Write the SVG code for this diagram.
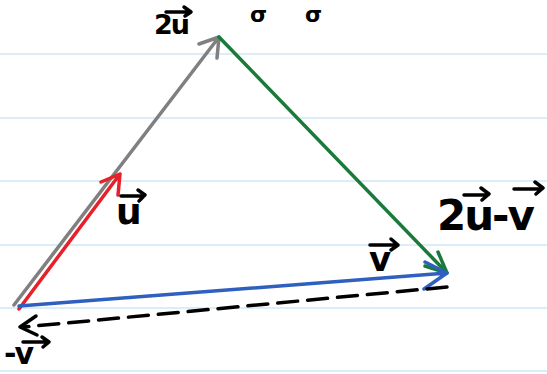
<svg xmlns="http://www.w3.org/2000/svg" width="547" height="374" viewBox="0 0 547 374">
<defs>
<style>
.rule{stroke:#cfe8f5;stroke-width:1.5}
.vec{fill:none;stroke-width:3.5;stroke-linecap:round;stroke-linejoin:round}
.lbl{font-family:"DejaVu Sans",sans-serif;font-weight:bold;fill:#000}
.ov{fill:none;stroke:#000;stroke-width:3.5;stroke-linecap:round;stroke-linejoin:round}
</style>
</defs>
<rect width="547" height="374" fill="#fff"/>
<g id="rules">
<line class="rule" x1="0" y1="54" x2="547" y2="54"/>
<line class="rule" x1="0" y1="118" x2="547" y2="118"/>
<line class="rule" x1="0" y1="181" x2="547" y2="181"/>
<line class="rule" x1="0" y1="245" x2="547" y2="245"/>
<line class="rule" x1="0" y1="308" x2="547" y2="308"/>
<line class="rule" x1="0" y1="371" x2="547" y2="371"/>
</g>
<g id="connectors">
<g id="vec-2u"><path class="vec" stroke="#808080" d="M14 305 L219 37 M199 44 L219 37 L217 58"/></g>
<g id="vec-u"><path class="vec" stroke="#e8202a" d="M19 309 L120 174 M101 182 L120 174 L118 195"/></g>
<g id="vec-2u-v"><path class="vec" stroke="#1a7a3a" d="M219 37 L447 273 M438 252 L447 273 L425 266"/></g>
<g id="vec-v"><path class="vec" stroke="#2f5fbf" d="M19 306 L447 273 M425 262 L447 273 L424 289"/></g>
<g id="vec-neg-v"><path class="vec" stroke="#000" stroke-dasharray="20 10" d="M447 287 L24 327"/><path class="vec" stroke="#000" d="M36 316 L20 327 L37 335"/></g>
</g>
<g id="label-2u"><text class="lbl" x="154" y="34" font-size="27" letter-spacing="-2">2u</text><path class="ov" d="M166 12 H190 M184 7 L191 12 L185 16"/></g>
<g id="label-u"><text class="lbl" x="116" y="224" font-size="36">u</text><path class="ov" d="M121 196 H144 M138 190 L145 195 L139 201"/></g>
<g id="label-v"><text class="lbl" x="369" y="271" font-size="34">v</text><path class="ov" d="M370 245 H398 M391 239 L398 245 L391 250"/></g>
<g id="label-2u-v"><text class="lbl" x="437" y="230" font-size="42" letter-spacing="-2">2u-v</text><path class="ov" d="M464 195 H488 M481 188 L489 194 L482 200 M514 189 H542 M535 182 L543 188 L536 194"/></g>
<g id="label-neg-v"><text class="lbl" x="4" y="364" font-size="30" letter-spacing="-2">-v</text><path class="ov" d="M23 342 H49 M42 337 L49 342 L43 347"/></g>
<g id="top-fragments"><text class="lbl" x="250" y="22" font-size="22">σ</text><text class="lbl" x="305" y="22" font-size="22">σ</text></g>
</svg>
